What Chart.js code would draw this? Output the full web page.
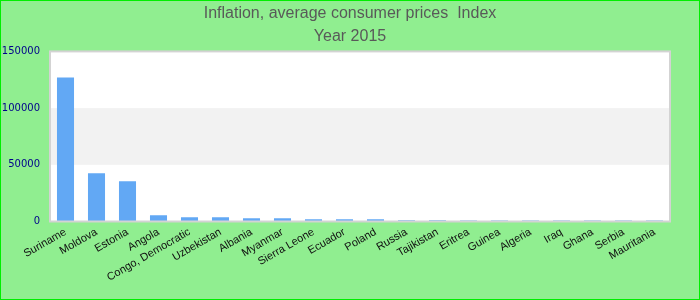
<!DOCTYPE html>
<html>
<head>
<meta charset="utf-8">
<script src="https://cdn.jsdelivr.net/npm/chart.js@4.4.1/dist/chart.umd.min.js"></script>
<style>
  html, body { margin: 0; padding: 0; background: #90ee90; }
  #wrap { width: 700px; height: 300px; position: relative; }
</style>
</head>
<body>
<div id="wrap"><canvas id="chart1" width="700" height="300"></canvas></div>
<script>
const countries = ['Suriname', 'Moldova', 'Estonia', 'Angola', 'Congo, Democratic', 'Uzbekistan', 'Albania', 'Myanmar',
  'Sierra Leone', 'Ecuador', 'Poland', 'Russia', 'Tajikistan', 'Eritrea', 'Guinea', 'Algeria', 'Iraq', 'Ghana',
  'Serbia', 'Mauritania'];

const indexValues = [127000, 42600, 35500, 5500, 3700, 3700, 2800, 2800, 1900, 1900, 1900, 1200, 1000, 950, 950,
  900, 900, 900, 880, 880];

const titleLines = ['Inflation, average consumer prices  Index', 'Year 2015'];

const yTicks = [0, 50000, 100000, 150000];

// paints the green page, white plot area and the grey band
const plotBackground = {
  id: 'plotBackground',
  afterLayout(chart) {
    // center the title over the whole canvas, not the padded box
    if (chart.titleBlock) {
      chart.titleBlock.left = 0;
      chart.titleBlock.right = chart.width;
      chart.titleBlock.width = chart.width;
    }
  },
  beforeDraw(chart) {
    const ctx = chart.ctx;
    const area = chart.chartArea;
    const y = chart.scales.y;
    ctx.save();
    ctx.fillStyle = '#90ee90';
    ctx.fillRect(0, 0, chart.width, chart.height);
    ctx.strokeStyle = '#00ee00';
    ctx.lineWidth = 1;
    ctx.strokeRect(0.5, 0.5, chart.width - 1, chart.height - 1);
    ctx.fillStyle = '#ffffff';
    ctx.fillRect(area.left, area.top, area.right - area.left, area.bottom - area.top);
    const bandTop = y.getPixelForValue(yTicks[2]);
    const bandBottom = y.getPixelForValue(yTicks[1]);
    ctx.fillStyle = '#f2f2f2';
    ctx.fillRect(area.left, bandTop, area.right - area.left, bandBottom - bandTop);
    ctx.restore();
  },
  afterDatasetsDraw(chart) {
    const ctx = chart.ctx;
    const area = chart.chartArea;
    ctx.save();
    ctx.strokeStyle = '#d3d3d3';
    ctx.lineWidth = 2;
    ctx.strokeRect(area.left, area.top, area.right - area.left, area.bottom - area.top);
    ctx.restore();
  },
};

new Chart(document.getElementById('chart1'), {
  type: 'bar',
  data: {
    labels: countries,
    datasets: [
      {
        label: 'Index',
        data: indexValues,
        backgroundColor: '#62a8f4',
        borderWidth: 0,
        barPercentage: 0.55,
        categoryPercentage: 1,
      },
    ],
  },
  options: {
    responsive: false,
    animation: false,
    layout: {
      padding: { left: 1, right: 30, top: 0, bottom: 12 },
    },
    plugins: {
      legend: { display: false },
      tooltip: { enabled: false },
      title: {
        display: true,
        text: titleLines,
        color: '#595959',
        font: { family: 'Liberation Sans, Arial, sans-serif', size: 16, weight: 'normal', lineHeight: 1.45 },
        padding: { top: 2, bottom: 3 },
      },
    },
    scales: {
      y: {
        min: 0,
        max: 150000,
        afterBuildTicks(scale) {
          scale.ticks = yTicks.map(v => ({ value: v }));
        },
        afterFit(scale) {
          scale.width = 49;
        },
        grid: { display: false, drawTicks: false },
        border: { display: false },
        ticks: {
          color: '#00008b',
          padding: 10,
          font: { family: 'DejaVu Sans, sans-serif', size: 10 },
          callback: v => String(v),
        },
      },
      x: {
        grid: { display: false, drawTicks: false },
        border: { display: false },
        ticks: {
          autoSkip: false,
          minRotation: 30,
          maxRotation: 30,
          color: '#111111',
          padding: 4,
          font: { family: 'Liberation Sans, Arial, sans-serif', size: 11 },
        },
      },
    },
  },
  plugins: [plotBackground],
});
</script>
</body>
</html>
